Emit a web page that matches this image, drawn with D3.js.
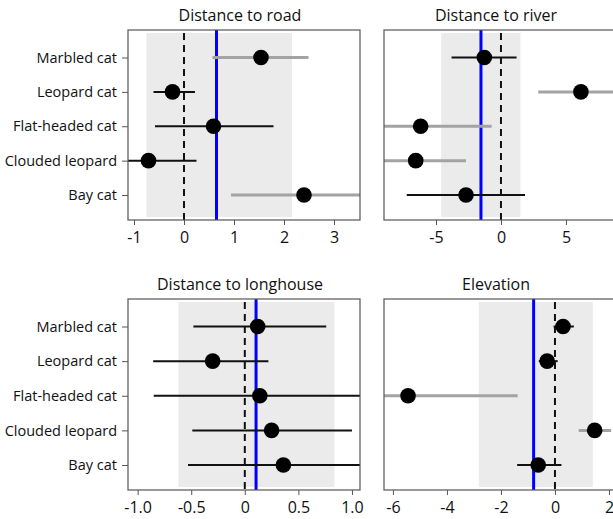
<!DOCTYPE html>
<html>
<head>
<meta charset="utf-8">
<script src="https://cdn.jsdelivr.net/npm/d3@7"></script>
<style>
  body { margin: 0; background: #fff; }
  svg { display: block; font-family: "Open Sans", "Noto Sans", sans-serif; }
  .axis path, .axis line { stroke: #555; }
  .axis text { font-family: "Open Sans", "Noto Sans", sans-serif; fill: #111; }
</style>
</head>
<body>
<div id="chart"></div>
<script>
"use strict";

const WIDTH = 613;
const HEIGHT = 519;

const SPECIES = ["Marbled cat", "Leopard cat", "Flat-headed cat", "Clouded leopard", "Bay cat"];

const TITLES = ["Distance to road", "Distance to river", "Distance to longhouse", "Elevation"];

// estimate, lower, upper per species (order as SPECIES)
const ROAD_EST = [1.54, -0.23, 0.59, -0.71, 2.4];
const ROAD_LO = [0.57, -0.61, -0.58, -1.3, 0.94];
const ROAD_HI = [2.49, 0.22, 1.79, 0.25, 3.8];
const ROAD_GREY = [true, false, false, false, true];

const RIVER_EST = [-1.28, 6.15, -6.18, -6.56, -2.69];
const RIVER_LO = [-3.8, 2.87, -9.5, -9.5, -7.25];
const RIVER_HI = [1.2, 9.5, -0.72, -2.69, 1.85];
const RIVER_GREY = [false, true, true, true, false];

const HOUSE_EST = [0.12, -0.30, 0.14, 0.25, 0.36];
const HOUSE_LO = [-0.48, -0.855, -0.85, -0.49, -0.53];
const HOUSE_HI = [0.76, 0.22, 1.2, 1.0, 1.2];
const HOUSE_GREY = [false, false, false, false, false];

const ELEV_EST = [0.30, -0.29, -5.44, 1.47, -0.62];
const ELEV_LO = [-0.05, -0.6, -6.8, 0.88, -1.40];
const ELEV_HI = [0.70, 0.1, -1.38, 2.08, 0.24];
const ELEV_GREY = [false, false, true, true, false];

// community mean (blue) and its interval (grey band)
const MEANS = [0.65, -1.54, 0.105, -0.79];
const BAND_LO = [-0.75, -4.6, -0.62, -2.82];
const BAND_HI = [2.16, 1.5, 0.836, 1.40];

const DOMAINS = [[-1.12, 3.52], [-9.0, 8.85], [-1.09, 1.075], [-6.33, 2.26]];
const TICKS = [[-1, 0, 1, 2, 3], [-5, 0, 5], [-1, -0.5, 0, 0.5, 1], [-6, -4, -2, 0, 2]];

// plain hyphen for negatives, like the original plot
const intFmt = d => String(d);
const decFmt = d => d === 0 ? "0" : d.toFixed(1);
const TICK_FMT = [intFmt, intFmt, decFmt, intFmt];

const PANELS = [
    { x: 128, y: 30, w: 232, h: 190, est: ROAD_EST, lo: ROAD_LO, hi: ROAD_HI, grey: ROAD_GREY, labels: true },
    { x: 384, y: 30, w: 232, h: 190, est: RIVER_EST, lo: RIVER_LO, hi: RIVER_HI, grey: RIVER_GREY, labels: false },
    { x: 128, y: 299, w: 232, h: 191, est: HOUSE_EST, lo: HOUSE_LO, hi: HOUSE_HI, grey: HOUSE_GREY, labels: true },
    { x: 384, y: 299, w: 232, h: 191, est: ELEV_EST, lo: ELEV_LO, hi: ELEV_HI, grey: ELEV_GREY, labels: false }
];

const SVG = d3.select("#chart").append("svg")
    .attr("width", WIDTH)
    .attr("height", HEIGHT);

PANELS.forEach(drawPanel);

function drawPanel(p, i) {
    const g = SVG.append("g").attr("transform", `translate(${p.x}, ${p.y})`);

    const xScale = d3.scaleLinear().domain(DOMAINS[i]).range([0, p.w]);
    const yScale = d3.scalePoint().domain(SPECIES).range([27.5, p.h - 25]);

    const clipId = "clip" + i;
    g.append("clipPath").attr("id", clipId)
        .append("rect").attr("width", p.w).attr("height", p.h);

    const plot = g.append("g").attr("clip-path", `url(#${clipId})`);

    plot.append("rect")
        .attr("x", xScale(BAND_LO[i]))
        .attr("y", 3)
        .attr("width", xScale(BAND_HI[i]) - xScale(BAND_LO[i]))
        .attr("height", p.h - 6)
        .attr("fill", "#ebebeb");

    plot.append("line")
        .attr("x1", xScale(0)).attr("x2", xScale(0))
        .attr("y1", 3).attr("y2", p.h)
        .attr("stroke", "#111")
        .attr("stroke-width", 2)
        .attr("stroke-dasharray", "7,5");

    plot.append("line")
        .attr("x1", xScale(MEANS[i])).attr("x2", xScale(MEANS[i]))
        .attr("y1", 0).attr("y2", p.h)
        .attr("stroke", "#0000ff")
        .attr("stroke-width", 3);

    const rows = SPECIES.map((s, k) => ({ name: s, est: p.est[k], lo: p.lo[k], hi: p.hi[k], grey: p.grey[k] }));

    plot.selectAll(".ci").data(rows).enter().append("line")
        .attr("class", "ci")
        .attr("x1", d => xScale(d.lo))
        .attr("x2", d => xScale(d.hi))
        .attr("y1", d => yScale(d.name))
        .attr("y2", d => yScale(d.name))
        .attr("stroke", d => d.grey ? "#a3a3a3" : "#111")
        .attr("stroke-width", d => d.grey ? 3 : 2);

    plot.selectAll(".pt").data(rows).enter().append("circle")
        .attr("class", "pt")
        .attr("cx", d => xScale(d.est))
        .attr("cy", d => yScale(d.name))
        .attr("r", 7.8)
        .attr("fill", "#000");

    g.append("rect")
        .attr("width", p.w).attr("height", p.h)
        .attr("fill", "none")
        .attr("stroke", "#555")
        .attr("stroke-width", 1.2);

    const xaxis = d3.axisBottom(xScale)
        .tickValues(TICKS[i])
        .tickFormat(TICK_FMT[i])
        .tickSize(5)
        .tickPadding(7)
        .tickSizeOuter(0);

    const ax = g.append("g")
        .attr("class", "axis")
        .attr("transform", `translate(0, ${p.h})`)
        .call(xaxis);
    ax.select(".domain").remove();
    ax.selectAll("text").style("font-size", "16px");

    if (p.labels) {
        const yaxis = d3.axisLeft(yScale).tickSize(6).tickPadding(5);
        const ay = g.append("g").attr("class", "axis").call(yaxis);
        ay.select(".domain").remove();
        ay.selectAll("text").style("font-size", "14.5px");
    }

    g.append("text")
        .attr("x", p.w / 2 - 4)
        .attr("y", -9.5)
        .attr("text-anchor", "middle")
        .style("font-size", "16px")
        .attr("fill", "#111")
        .text(TITLES[i]);
}
</script>
</body>
</html>
